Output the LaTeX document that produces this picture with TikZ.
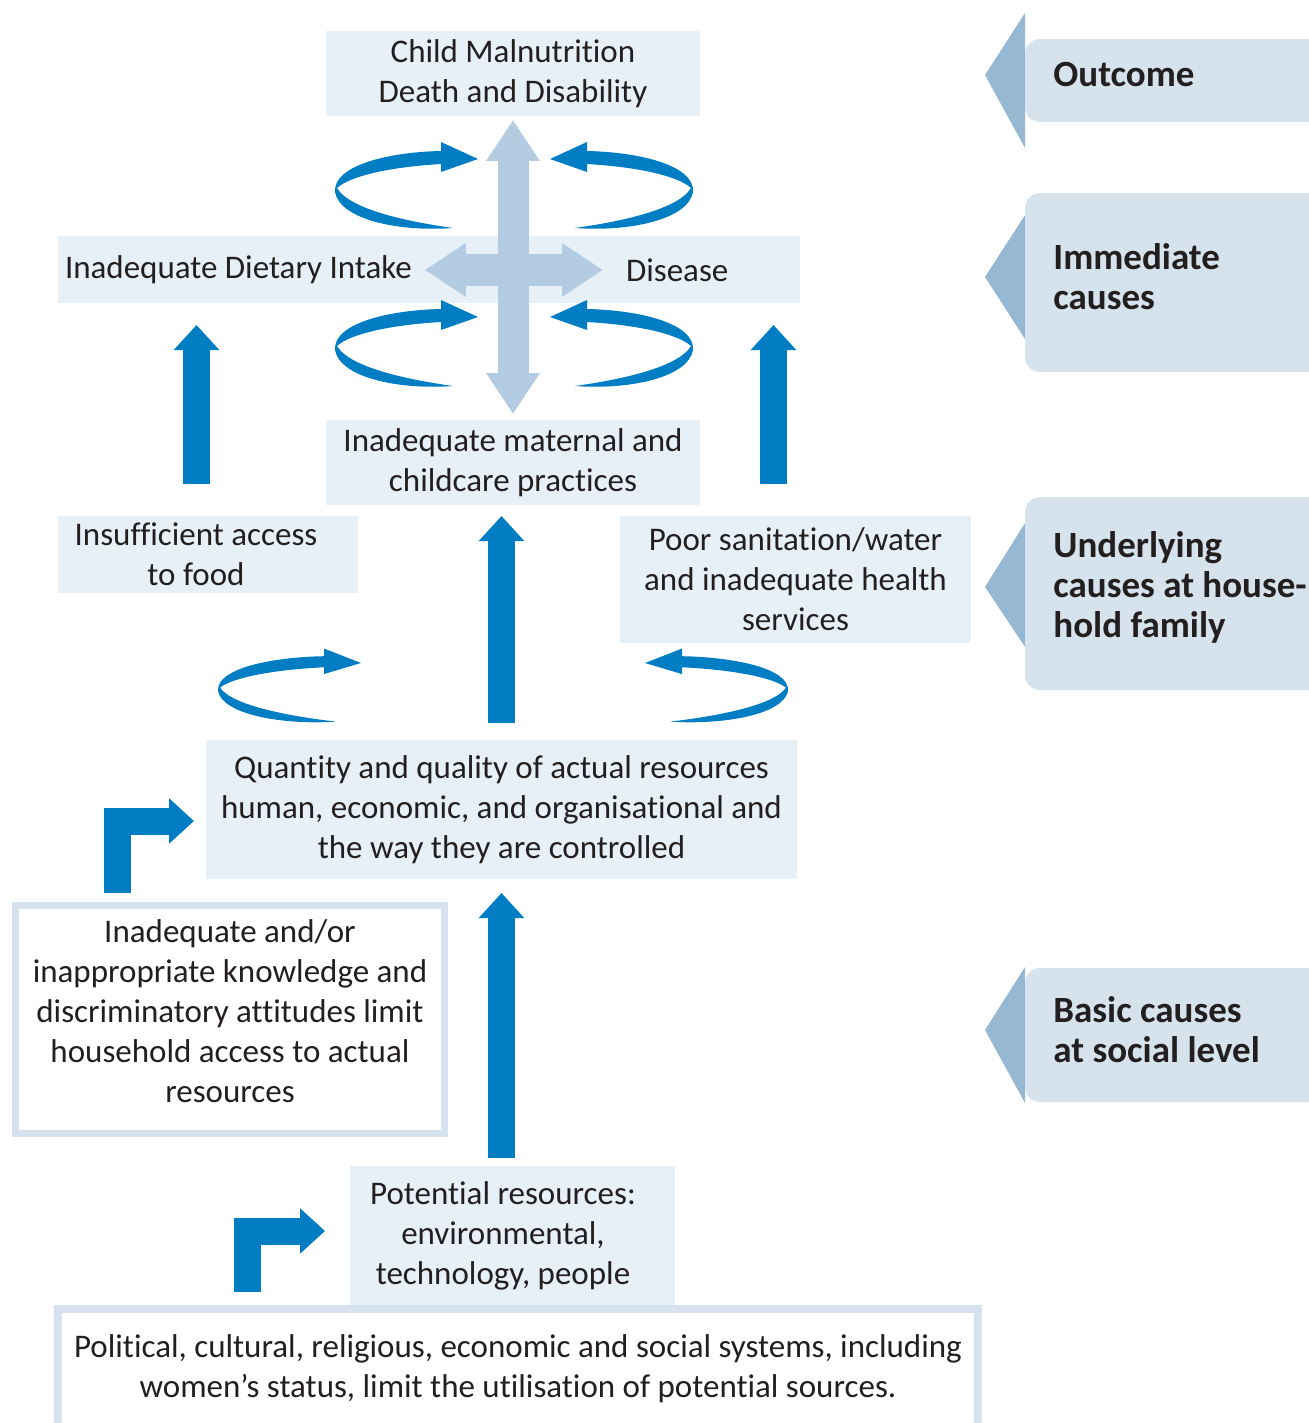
\documentclass[tikz,border=0pt]{standalone}
\usepackage{fontspec}
\setmainfont{Carlito}[Ligatures=NoCommon]
\usetikzlibrary{arrows.meta,positioning}

\definecolor{boxfill}{RGB}{232,240,247}
\definecolor{labfill}{RGB}{214,227,237}
\definecolor{tripoint}{RGB}{151,184,210}
\definecolor{crossblue}{RGB}{180,204,225}
\definecolor{arrowblue}{RGB}{0,125,195}
\definecolor{framecol}{RGB}{214,227,238}
\definecolor{ink}{RGB}{35,31,32}

\newcommand\boxfont{\fontsize{16.5}{20}\selectfont}
\newcommand\labfont{\fontsize{18.5}{20}\selectfont\bfseries}

\tikzset{
    causebox/.style={fill=boxfill, inner sep=0pt, outer sep=0pt, align=center, text=ink, font=\boxfont},
    framedbox/.style={draw=framecol, fill=white, inner sep=0pt, align=center, text=ink, font=\boxfont},
    plaintext/.style={inner sep=0pt, outer sep=0pt, align=center, text=ink, font=\boxfont},
    levellabel/.style={inner sep=0pt, anchor=west, align=left, text=ink, font=\labfont},
    uparrow/.style={draw=arrowblue, line width=13.5pt, -{Triangle[width=22pt,length=12.5pt]}},
    bentarrow/.style={uparrow, line join=miter},
    crossarrow/.style={draw=crossblue, line width=15.5pt,
        {Triangle[width=25.5pt,length=20.5pt]}-{Triangle[width=25.5pt,length=20.5pt]}},
    swirl/.pic={
        \fill[arrowblue] (-37,-8) -- (-37,-17) -- (0,0) -- (-37,13) -- (-37,5)
            .. controls (-88,8) and (-128,17) .. (-141,29)
            .. controls (-128,51) and (-68,63) .. (-25,69)
            .. controls (-78,73) and (-138,61) .. (-143,33)
            .. controls (-145,6) and (-88,-7) .. (-37,-8) -- cycle;
    }
}

\begin{document}
\begin{tikzpicture}[x=0.5pt, y=-0.5pt]

\useasboundingbox (0,0) rectangle (1309,1423);
\clip (0,0) rectangle (1309,1423);

% Outcome and immediate causes
\node[causebox, minimum width=187pt, minimum height=42.5pt] (out) at (513,73.5)
    {Child Malnutrition\\Death and Disability};
\node[causebox, minimum width=371pt, minimum height=33.5pt] (imm) at (429,269.5) {};
\node[plaintext, anchor=west] (intake) at (65,270) {Inadequate Dietary Intake};
\node[plaintext, anchor=west] (disease) at (626,270) {Disease};
\node[causebox, minimum width=187pt, minimum height=42.5pt] (mat) at (513,462.5)
    {Inadequate maternal and\\childcare practices};

% Cross arrow
\draw[crossarrow, shorten <=2pt, shorten >=3pt] (out.south) -- (mat.north);
\draw[crossarrow, shorten <=6.5pt, shorten >=11.5pt] (intake.east) -- (disease.west);

% Swirls round the cross
\pic at (478,159) {swirl};
\pic[xscale=-1] at (550,159) {swirl};
\pic at (478,317) {swirl};
\pic[xscale=-1] at (550,317) {swirl};

% Underlying causes
\node[causebox, minimum width=150pt, minimum height=38.5pt] (access) at (208,554.5) {};
\node[plaintext] (accesstext) at ([xshift=-6pt]access.center) {Insufficient access\\to food};
\node[causebox, minimum width=175.5pt, minimum height=63.5pt] (san) at (795.5,579.5)
    {Poor sanitation/water\\and inadequate health\\services};
\node[causebox, minimum width=295.5pt, minimum height=69.5pt] (res) at (501.5,809.5)
    {Quantity and quality of actual resources\\human, economic, and organisational and\\the way they are controlled};

\coordinate (lfoot) at ([xshift=-5.75pt]access.north);
\coordinate (rfoot) at ([xshift=-11pt]san.north);
\draw[uparrow, shorten <=16pt, shorten >=11pt] (lfoot) -- (lfoot |- imm.south);
\draw[uparrow, shorten <=16pt, shorten >=11pt] (rfoot) -- (rfoot |- imm.south);
\draw[uparrow, shorten <=8.5pt, shorten >=5.5pt] (res.north) -- (res.north |- mat.south);

\pic[yscale=0.85] at (361,663) {swirl};
\pic[xscale=-1, yscale=0.85] at (645,663) {swirl};

% Basic causes
\node[framedbox, line width=3.5pt, minimum width=214.5pt, minimum height=114pt] (know) at (230,1019.5) {};
\node[plaintext] (knowtext) at ([yshift=4pt]know.center)
    {Inadequate and/or\\inappropriate knowledge and\\discriminatory attitudes limit\\household access to actual\\resources};
\node[causebox, minimum width=162.5pt, minimum height=69.5pt] (pot) at (512.5,1235.5) {};
\node[plaintext] (pottext) at ([xshift=-4.75pt]pot.center)
    {Potential resources:\\environmental,\\technology, people};
\node[framedbox, line width=4pt, minimum width=460pt, minimum height=60pt] (pol) at (518,1369)
    {Political, cultural, religious, economic and social systems, including\\women's status, limit the utilisation of potential sources.};

\draw[uparrow, shorten <=4pt, shorten >=7pt] (res.south |- pot.north) -- (res.south);

\coordinate (kfoot) at ([xshift=-56.25pt]know.north);
\draw[bentarrow, shorten <=4.5pt, shorten >=6pt] (kfoot) |- ([yshift=-5.75pt]res.west);
\coordinate (pfoot) at ([xshift=-135.25pt]pol.north);
\draw[bentarrow, shorten <=6.5pt, shorten >=12.5pt] (pfoot) |- ([yshift=2.25pt]pot.west);

% Level labels on the right
\foreach \bt/\bb/\tt/\tm/\tb/\txt in {39/122/13/75/148/{Outcome},
    193/372/215/277/339/{Immediate\\causes},
    497/690/523/587/647/{Underlying\\causes at house-\\hold family},
    968/1102/967/1030/1103/{Basic causes\\at social level}} {
    \fill[tripoint] (1025,\tt) -- (985,\tm) -- (1025,\tb) -- cycle;
    \fill[labfill, rounded corners=7.5pt] (1025,\bt) rectangle (1345,\bb);
    \node[levellabel] (lab\bt) at (1053,\tm) {\txt};
}

\end{tikzpicture}
\end{document}
